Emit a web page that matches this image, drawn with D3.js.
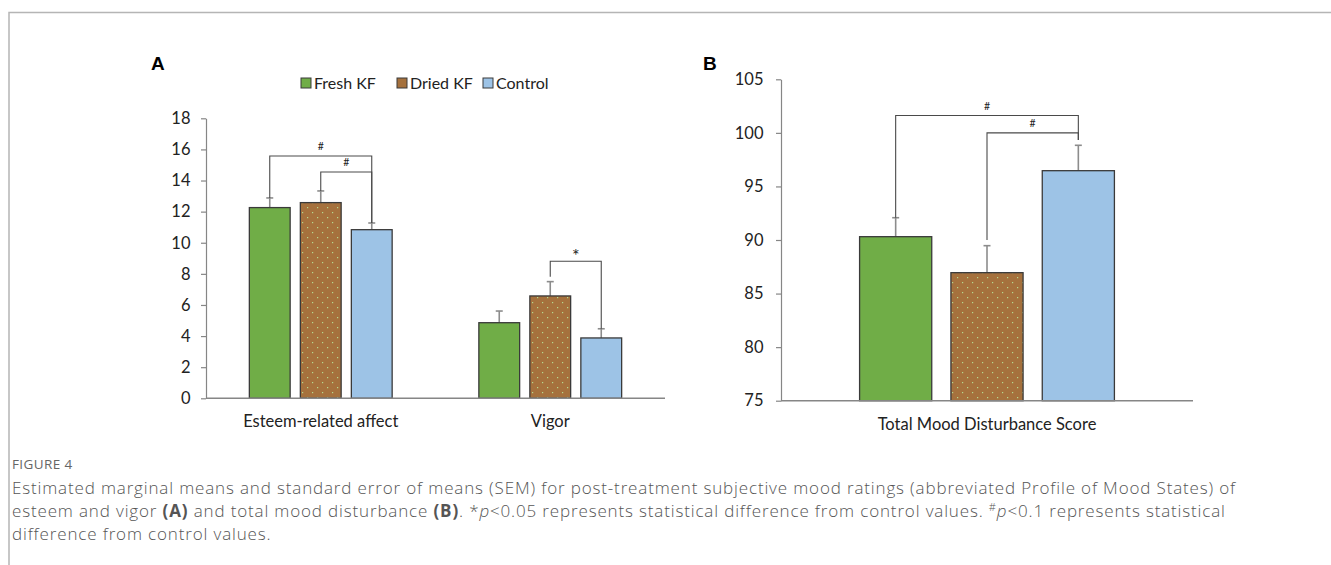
<!DOCTYPE html>
<html>
<head>
<meta charset="utf-8">
<script src="https://cdn.jsdelivr.net/npm/d3@7"></script>
<style>
  body { margin: 0; background: #fff; }
  svg { display: block; }
</style>
</head>
<body>
<script>
// Data
const series = ["Fresh KF", "Dried KF", "Control"];
const catsA = ["Esteem-related affect", "Vigor"];
const catsB = ["Total Mood Disturbance Score"];

const meansA = {
  "Fresh KF": [12.26, 4.86],
  "Dried KF": [12.58, 6.58],
  "Control": [10.84, 3.88]
};
const semA = {
  "Fresh KF": [0.62, 0.75],
  "Dried KF": [0.75, 0.92],
  "Control": [0.43, 0.59]
};
const meansB = { "Fresh KF": [90.31], "Dried KF": [86.95], "Control": [96.47] };
const semB = { "Fresh KF": [1.77], "Dried KF": [2.52], "Control": [2.37] };

const ticksA = [0, 2, 4, 6, 8, 10, 12, 14, 16, 18];
const ticksB = [75, 80, 85, 90, 95, 100, 105];

// significance brackets: category, from/to series, bar level, leg ends (data units)
const bracketsA = [
  { cat: "Esteem-related affect", from: "Fresh KF", to: "Control", level: 15.58, y1: 12.88, y2: 11.27, label: "#" },
  { cat: "Esteem-related affect", from: "Dried KF", to: "Control", level: 14.55, y1: 13.33, y2: 11.27, label: "#" },
  { cat: "Vigor", from: "Dried KF", to: "Control", level: 8.81, y1: 7.82, y2: 4.47, label: "*" }
];
const bracketsB = [
  { cat: "Total Mood Disturbance Score", from: "Fresh KF", to: "Control", level: 101.62, y1: 92.08, y2: 99.34, label: "#" },
  { cat: "Total Mood Disturbance Score", from: "Dried KF", to: "Control", level: 100.0, y1: 90.0, y2: 99.34, label: "#" }
];

const colors = { "Fresh KF": "#70ad47", "Dried KF": "#a5713d", "Control": "#9dc3e6" };
const fontAxis = "Lato, 'Open Sans', sans-serif";
const axisFontSize = 16.5;

const width = 1331, height = 565;
const svg = d3.select("body").append("svg")
  .attr("width", width)
  .attr("height", height);

// dotted fill for the dried bars
const defs = svg.append("defs");
const pat = defs.append("pattern")
  .attr("id", "dots")
  .attr("patternUnits", "userSpaceOnUse")
  .attr("width", 10).attr("height", 10);
pat.append("rect").attr("width", 10).attr("height", 10).attr("fill", colors["Dried KF"]);
pat.append("rect").attr("x", 2).attr("y", 2).attr("width", 1.2).attr("height", 1.2).attr("fill", "#b7d98f");
pat.append("rect").attr("x", 7).attr("y", 7).attr("width", 1.2).attr("height", 1.2).attr("fill", "#b7d98f");

// outer frame
svg.append("path")
  .attr("d", `M9,${height} V12.5 H${width}`)
  .attr("fill", "none")
  .attr("stroke", "#b5b5b5")
  .attr("stroke-width", 1.5);

function panel(opts) {
  const { cats, means, sem, ticks, x0, x1, yTop, yBottom, domain, brackets, barPad, groupW, tickPad } = opts;

  const x = d3.scaleBand().domain(cats).range([x0, x1]).padding(0);
  const y = d3.scaleLinear().domain(domain).range([yBottom, yTop]);
  const xs = d3.scaleBand().domain(series).range([-groupW / 2, groupW / 2]).paddingInner(barPad).paddingOuter(barPad / 2);

  const g = svg.append("g");

  // y axis
  const yAxis = g.append("g")
    .attr("transform", `translate(${x0},0)`)
    .call(d3.axisLeft(y).tickValues(ticks).tickSize(5).tickSizeOuter(0).tickPadding(tickPad));
  yAxis.select(".domain").attr("stroke", "#868686").attr("stroke-width", 1.2);
  yAxis.selectAll(".tick line").attr("stroke", "#868686").attr("stroke-width", 1.2);
  yAxis.selectAll(".tick text")
    .attr("font-family", fontAxis).attr("font-size", axisFontSize).attr("fill", "#222");

  // bars
  series.forEach(s => {
    cats.forEach((c, i) => {
      const cx = x(c) + x.bandwidth() / 2;
      const v = means[s][i];
      const e = sem[s][i];
      const bx = cx + xs(s);
      const mid = bx + xs.bandwidth() / 2;

      // error bar (upper only)
      g.append("line")
        .attr("x1", mid).attr("x2", mid)
        .attr("y1", y(v)).attr("y2", y(v + e))
        .attr("stroke", "#8c8c8c").attr("stroke-width", 1.6);
      g.append("line")
        .attr("x1", mid - 3.5).attr("x2", mid + 3.5)
        .attr("y1", y(v + e)).attr("y2", y(v + e))
        .attr("stroke", "#8c8c8c").attr("stroke-width", 1.6);

      g.append("rect")
        .attr("x", bx)
        .attr("y", y(v))
        .attr("width", xs.bandwidth())
        .attr("height", y(domain[0]) - y(v))
        .attr("fill", s === "Dried KF" ? "url(#dots)" : colors[s])
        .attr("stroke", "#3a3a3a")
        .attr("stroke-width", 1.3);
    });
  });

  // x axis line
  g.append("line")
    .attr("x1", x0).attr("x2", x1)
    .attr("y1", y(domain[0])).attr("y2", y(domain[0]))
    .attr("stroke", "#868686").attr("stroke-width", 1.4);

  // category labels
  cats.forEach(c => {
    g.append("text")
      .attr("x", x(c) + x.bandwidth() / 2)
      .attr("y", y(domain[0]) + 29)
      .attr("text-anchor", "middle")
      .attr("font-family", fontAxis).attr("font-size", axisFontSize).attr("fill", "#222")
      .text(c);
  });

  // significance brackets
  brackets.forEach(b => {
    const cx = x(b.cat) + x.bandwidth() / 2;
    const xa = cx + xs(b.from) + xs.bandwidth() / 2;
    const xb = cx + xs(b.to) + xs.bandwidth() / 2;
    g.append("path")
      .attr("d", `M${xa},${y(b.y1)} V${y(b.level)} H${xb} V${y(b.y2)}`)
      .attr("fill", "none")
      .attr("stroke", "#4a4a4a")
      .attr("stroke-width", 1.1);
    g.append("text")
      .attr("x", (xa + xb) / 2)
      .attr("y", y(b.level) - (b.label === "*" ? -1 : 6))
      .attr("text-anchor", "middle")
      .attr("font-family", fontAxis)
      .attr("font-size", b.label === "*" ? 18 : 10.5)
      .attr("fill", "#222")
      .text(b.label);
  });
}

panel({
  cats: catsA, means: meansA, sem: semA, ticks: ticksA,
  x0: 206, x1: 665, yTop: 118.3, yBottom: 398.3, domain: [0, 18],
  brackets: bracketsA, barPad: 0.2, groupW: 153, tickPad: 10.5
});

panel({
  cats: catsB, means: meansB, sem: semB, ticks: ticksB,
  x0: 781, x1: 1193, yTop: 79.3, yBottom: 400.7, domain: [75, 105],
  brackets: bracketsB, barPad: 0.21, groupW: 274, tickPad: 12.5
});

// panel letters
svg.append("text").attr("x", 151).attr("y", 70)
  .attr("font-family", "'Liberation Sans', Arial, sans-serif").attr("font-weight", "bold")
  .attr("font-size", 19).text("A");
svg.append("text").attr("x", 703).attr("y", 70)
  .attr("font-family", "'Liberation Sans', Arial, sans-serif").attr("font-weight", "bold")
  .attr("font-size", 19).text("B");

// legend
const legendX = [301, 397, 483];
const legend = svg.append("g");
series.forEach((s, i) => {
  legend.append("rect")
    .attr("x", legendX[i]).attr("y", 78)
    .attr("width", 10).attr("height", 10)
    .attr("fill", colors[s])
    .attr("stroke", "#3a3a3a").attr("stroke-width", 1);
  legend.append("text")
    .attr("x", legendX[i] + 13).attr("y", 88.5)
    .attr("font-family", fontAxis).attr("font-size", 16).attr("fill", "#222")
    .text(s);
});

// caption
const capFont = "'Open Sans', Lato, sans-serif";
svg.append("text").attr("x", 12).attr("y", 469)
  .attr("font-family", capFont).attr("font-size", 13.5).attr("letter-spacing", 0.4)
  .attr("fill", "#666")
  .text("FIGURE 4");

const cap = svg.append("g")
  .attr("font-family", capFont).attr("font-size", 17).attr("letter-spacing", 0.85)
  .attr("font-weight", 300).attr("fill", "#555");
cap.append("text").attr("x", 12).attr("y", 494)
  .text("Estimated marginal means and standard error of means (SEM) for post-treatment subjective mood ratings (abbreviated Profile of Mood States) of");
const l2 = cap.append("text").attr("x", 12).attr("y", 517);
l2.append("tspan").text("esteem and vigor ");
l2.append("tspan").attr("font-weight", "bold").text("(A)");
l2.append("tspan").text(" and total mood disturbance ");
l2.append("tspan").attr("font-weight", "bold").text("(B)");
l2.append("tspan").text(". *");
l2.append("tspan").attr("font-style", "italic").text("p");
l2.append("tspan").text("<0.05 represents statistical difference from control values. ");
l2.append("tspan").attr("font-size", 11).attr("dy", -6).text("#");
l2.append("tspan").attr("font-style", "italic").attr("dy", 6).text("p");
l2.append("tspan").text("<0.1 represents statistical");
cap.append("text").attr("x", 12).attr("y", 540)
  .text("difference from control values.");
</script>
</body>
</html>
